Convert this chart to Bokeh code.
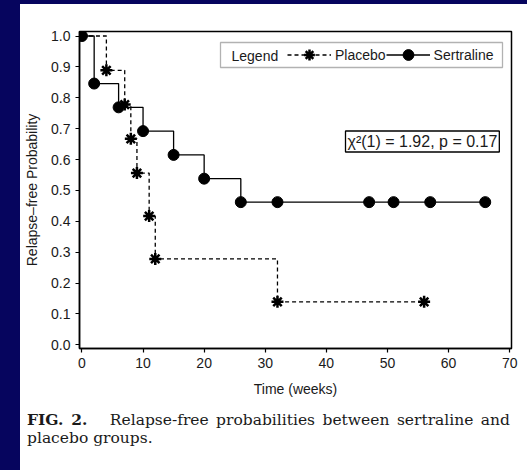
from bokeh.plotting import figure
from bokeh.models import (Range1d, FixedTicker, PrintfTickFormatter, Legend, LegendItem,
                          Label, BoxAnnotation, Div)
from bokeh.layouts import column, row
from bokeh.embed import file_html
from bokeh.resources import INLINE

# ---- data ----
sert_time = [0, 2, 6, 10, 15, 20, 26, 32, 47, 51, 57, 66]
sert_surv = [1.0, 0.846, 0.769, 0.692, 0.615, 0.538, 0.462, 0.462, 0.462, 0.462, 0.462, 0.462]
plac_time = [0, 4, 7, 8, 9, 11, 12, 32, 56]
plac_surv = [1.0, 0.889, 0.778, 0.667, 0.556, 0.417, 0.278, 0.139, 0.139]
x_ticks = [0, 10, 20, 30, 40, 50, 60, 70]
y_ticks = [0.0, 0.1, 0.2, 0.3, 0.4, 0.5, 0.6, 0.7, 0.8, 0.9, 1.0]
stat_text = "\u03c7\u00b2(1) = 1.92, p = 0.17"
caption_bold = "FIG. 2."
caption_line1 = "Relapse-free probabilities between sertraline and"
caption_line2 = "placebo groups."

NAVY = "#06055E"
INK = "#1a1a1a"
SANS = "Liberation Sans"
SERIF = "DejaVu Serif"

p = figure(width=507, height=396, output_backend="svg", toolbar_location=None,
           x_range=Range1d(-0.4, 70.3), y_range=Range1d(-0.012, 1.0146),
           min_border_left=59, min_border_right=16, min_border_top=27, min_border_bottom=52,
           background_fill_color="white", border_fill_color="white", margin=0)
p.grid.visible = False
p.outline_line_color = "black"
p.outline_line_width = 1.5

for ax in (p.xaxis[0], p.yaxis[0]):
    ax.axis_line_color = "black"
    ax.axis_line_width = 1.5
    ax.major_tick_line_color = "black"
    ax.major_tick_line_width = 1.2
    ax.major_tick_out = 4
    ax.major_tick_in = 0
    ax.minor_tick_line_color = None
    ax.major_label_text_font = SANS
    ax.major_label_text_font_size = "14px"
    ax.major_label_text_color = INK
    ax.axis_label_text_font = SANS
    ax.axis_label_text_font_size = "14px"
    ax.axis_label_text_font_style = "normal"
    ax.axis_label_text_color = INK
    ax.major_label_standoff = 5

p.xaxis.ticker = FixedTicker(ticks=x_ticks)
p.yaxis.ticker = FixedTicker(ticks=y_ticks)
p.yaxis.formatter = PrintfTickFormatter(format="%.1f")
p.xaxis.axis_label = "Time (weeks)"
p.yaxis.axis_label = "Relapse\u2013free Probability"
p.xaxis.axis_label_standoff = 10
p.yaxis.axis_label_standoff = 8

# ---- curves ----
pl_line = p.step(plac_time, plac_surv, mode="after", line_color="black", line_width=1.3,
                 line_dash="4 3")
pl_pts = p.scatter(plac_time[1:], plac_surv[1:], marker="asterisk", size=12,
                   line_color="black", line_width=2.5)
se_line = p.step(sert_time, sert_surv, mode="after", line_color="black", line_width=1.3)
se_pts = p.scatter(sert_time, sert_surv, marker="circle", size=11,
                   fill_color="black", line_color="black")

# ---- legend ----
FX, FY = 79, 348  # page coords of frame left / bottom


def sx(x):
    return x - FX


def sy(y):
    return FY - y


legend = Legend(items=[LegendItem(label="Placebo", renderers=[pl_line, pl_pts]),
                       LegendItem(label="Sertraline", renderers=[se_line, se_pts])],
                orientation="horizontal", location=(sx(287), sy(68)),
                glyph_width=44, glyph_height=27, label_standoff=4, spacing=0,
                padding=0, margin=0, border_line_color=None, background_fill_alpha=0,
                label_text_font=SANS, label_text_font_size="14px", label_text_color=INK)
p.add_layout(legend)

p.add_layout(BoxAnnotation(left=sx(220), right=sx(502), top=sy(42), bottom=sy(67),
                           left_units="screen", right_units="screen",
                           top_units="screen", bottom_units="screen",
                           fill_alpha=0, line_color="black", line_width=1.3, level="overlay"))
p.add_layout(Label(x=sx(231), y=sy(55), x_units="screen", y_units="screen",
                   text="Legend", text_font=SANS, text_font_size="14px",
                   text_color=INK, text_baseline="middle"))

# ---- statistics box ----
p.add_layout(Label(x=sx(345), y=sy(141), x_units="screen", y_units="screen",
                   text=stat_text, text_font=SANS, text_font_size="16px", text_color=INK,
                   text_baseline="middle", padding=2,
                   border_line_color="black", border_line_width=1.3,
                   background_fill_color="white"))

# ---- caption ----
cap_style = (f"font-family:'{SERIF}';font-size:15.5px;line-height:18px;color:{INK};"
             "margin-left:7px;width:483px;")
caption = Div(width=507, height=70, margin=0,
              text=(f'<div style="{cap_style}margin-top:11px;text-align:justify;'
                    f'text-align-last:justify"><b>{caption_bold}</b>&nbsp;&nbsp; '
                    f'{caption_line1}</div>'
                    f'<div style="{cap_style}">{caption_line2}</div>'),
              styles={"background-color": "white"})

left_strip = Div(width=20, height=470, text="", margin=0,
                 styles={"background-color": NAVY})
top_strip = Div(width=507, height=4, text="", margin=0,
                styles={"background-color": NAVY})

layout = row(left_strip, column(top_strip, p, caption, spacing=0, margin=0),
             spacing=0, margin=0)

open("out.html", "w").write(file_html(layout, INLINE))
